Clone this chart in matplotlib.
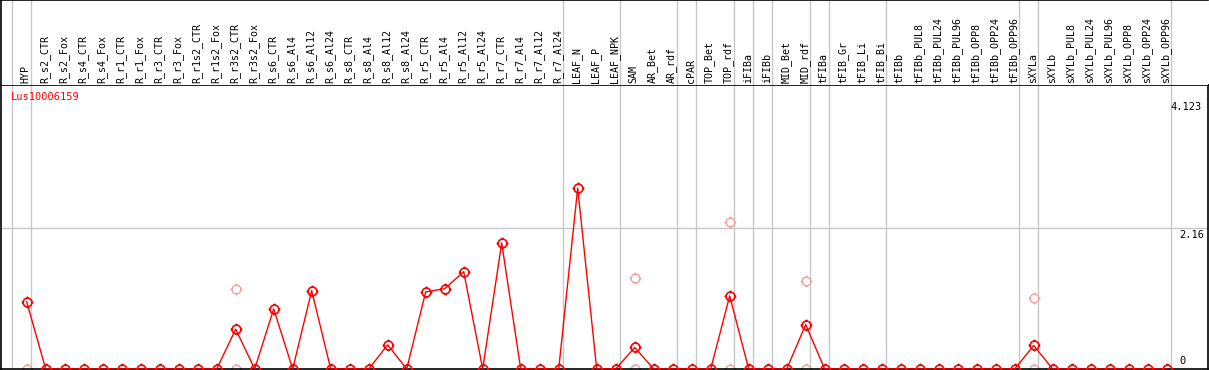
import numpy as np
import matplotlib
matplotlib.use("Agg")
import matplotlib.pyplot as plt
from matplotlib.path import Path
import matplotlib.transforms as mtrans

samples = ["HYP",
           "R_s2_CTR", "R_s2_Fox", "R_s4_CTR", "R_s4_Fox", "R_r1_CTR", "R_r1_Fox",
           "R_r3_CTR", "R_r3_Fox", "R_r1s2_CTR", "R_r1s2_Fox", "R_r3s2_CTR", "R_r3s2_Fox",
           "R_s6_CTR", "R_s6_Al4", "R_s6_Al12", "R_s6_Al24",
           "R_s8_CTR", "R_s8_Al4", "R_s8_Al12", "R_s8_Al24",
           "R_r5_CTR", "R_r5_Al4", "R_r5_Al12", "R_r5_Al24",
           "R_r7_CTR", "R_r7_Al4", "R_r7_Al12", "R_r7_Al24",
           "LEAF_N", "LEAF_P", "LEAF_NPK", "SAM", "AR_Bet", "AR_rdf", "cPAR",
           "TOP_Bet", "TOP_rdf", "iFIBa", "iFIBb", "MID_Bet", "MID_rdf",
           "tFIBa", "tFIB_Gr", "tFIB_Li", "tFIB_Bi",
           "tFIBb", "tFIBb_PUL8", "tFIBb_PUL24", "tFIBb_PUL96",
           "tFIBb_OPP8", "tFIBb_OPP24", "tFIBb_OPP96",
           "sXYLa", "sXYLb", "sXYLb_PUL8", "sXYLb_PUL24", "sXYLb_PUL96",
           "sXYLb_OPP8", "sXYLb_OPP24", "sXYLb_OPP96"]

# mean expression per sample (zero unless listed)
mean_vals = [1.03, 0, 0, 0, 0, 0, 0, 0, 0, 0, 0, 0.61, 0,
             0.92, 0, 1.20, 0, 0, 0, 0.37, 0,
             1.18, 1.23, 1.49, 0, 1.93, 0, 0, 0,
             2.77, 0, 0, 0.33, 0, 0, 0, 0, 1.12, 0, 0, 0, 0.68,
             0, 0, 0, 0, 0, 0, 0, 0, 0, 0, 0,
             0.36, 0, 0, 0, 0, 0, 0, 0]

# individual replicate values
rep_idx = [0, 11, 11, 32, 32, 37, 37, 41, 41, 53, 53]
rep_val = [0, 1.23, 0, 1.39, 0, 2.25, 0, 1.35, 0, 1.09, 0]

# last sample of each group (gray separators drawn after them)
group_ends = [-1, 0, 28, 31, 34, 35, 37, 38, 39, 41, 42, 45, 52, 53, 60]

gene = "Lus10006159"
ymax_label = 4.123
ymid_label = 2.16

W, H = 1209, 370
fig = plt.figure(figsize=(W / 100, H / 100), dpi=100)

px = 19.0       # pixels per sample
x0 = 26.7       # pixel of first sample
xl = (1 - x0) / px
xr = (1208 - x0) / px
ax = fig.add_axes([1 / W, 1 / H, 1207 / W, 284 / H])
axt = fig.add_axes([1 / W, 285 / H, 1207 / W, 85 / H], sharex=ax)

ax.set_xlim(xl, xr)
ax.set_ylim(0, 284 / 65.3)
axt.set_ylim(0, 1)

for a in (ax, axt):
    a.set_xticks([])
    a.set_yticks([])
    for s in a.spines.values():
        s.set_linewidth(1.2)
axt.spines["right"].set_visible(False)
axt.spines["bottom"].set_visible(False)

gray = "#c8c8c8"
for g in group_ends:
    for a in (ax, axt):
        a.axvline(g + 4 / px, color=gray, lw=1, zorder=0)
ax.axhline(ymid_label, color=gray, lw=1, zorder=0)

# marker: circle with small ticks
circ = Path.unit_circle()
ticks = Path([(1, 0), (1.35, 0), (-1, 0), (-1.35, 0), (0, 1), (0, 1.35), (0, -1), (0, -1.35)],
             [Path.MOVETO, Path.LINETO] * 4)
mk = Path.make_compound_path(circ, ticks)

x = np.arange(len(samples))
ax.plot(rep_idx, rep_val, ls="none", marker=mk, ms=8.5, mfc="none", mec="#f0a0a0", mew=1.0, zorder=2)
ax.plot(x, mean_vals, color="red", lw=1.0, marker=mk, ms=8.5, mfc="none", mec="red", mew=1.2, zorder=3)

mono = "DejaVu Sans Mono"
for i, s in enumerate(samples):
    axt.text(i - 0.05, 0.025, s, rotation=90, ha="center", va="bottom", fontsize=7.2, family=mono)

ax.text(10 / 1207, 1 - 12 / 284, gene, transform=ax.transAxes, color="red", fontsize=7.5,
        family=mono, ha="left", va="center")

tr = mtrans.blended_transform_factory(ax.transAxes, ax.transData)
ax.text(1169 / 1207, ymax_label - 0.03, "4.123", transform=tr, ha="left", va="top", fontsize=7.5,
        family=mono, clip_on=False)
ax.text(1178 / 1207, ymid_label - 0.03, "2.16", transform=tr, ha="left", va="top", fontsize=7.5, family=mono)
ax.text(1178 / 1207, 0.05, "0", transform=tr, ha="left", va="bottom", fontsize=7.5, family=mono)

fig.savefig("out.png", dpi=100)
